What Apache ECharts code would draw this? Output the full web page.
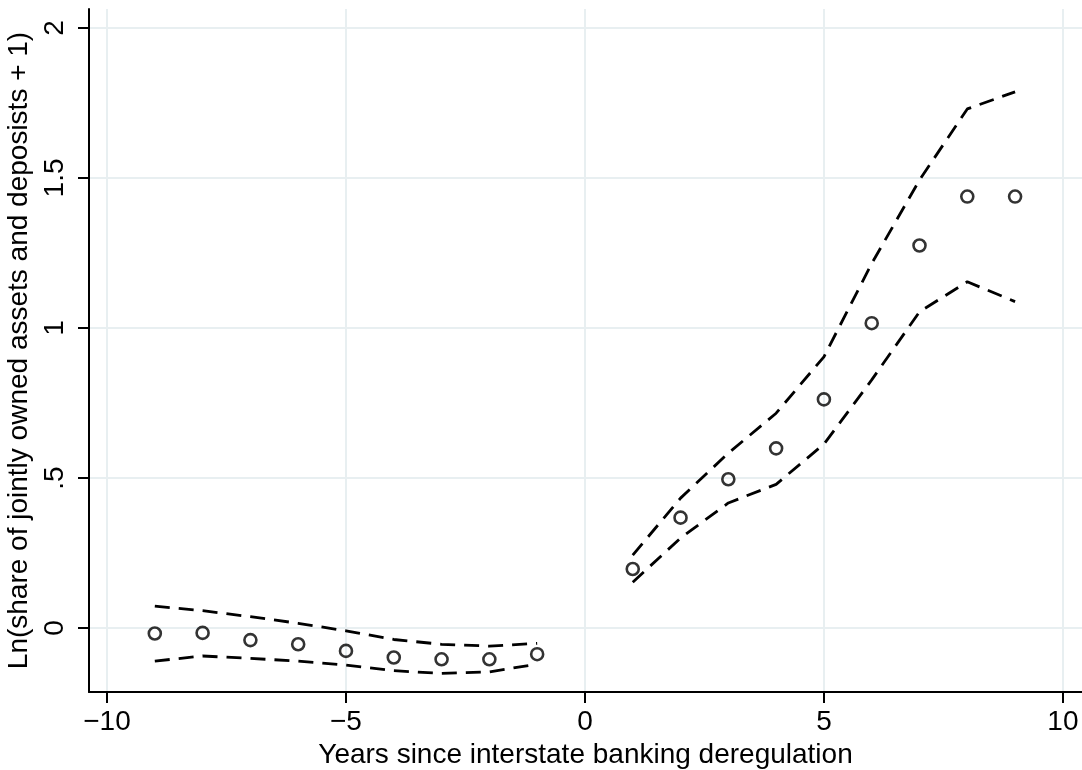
<!DOCTYPE html>
<html lang="en">
<head>
<meta charset="UTF-8">
<title>Deregulation event study</title>
<script src="https://cdn.jsdelivr.net/npm/echarts@6/dist/echarts.min.js"></script>
<style>
  html, body { margin: 0; padding: 0; background: #fff; }
  #main { width: 1082px; height: 770px; }
</style>
</head>
<body>
<div id="main"></div>
<script>
  // years before / after deregulation
  var yearsPre = [-9, -8, -7, -6, -5, -4, -3, -2, -1];
  var yearsPost = [1, 2, 3, 4, 5, 6, 7, 8, 9];

  // point estimates
  var estPre = [-0.018, -0.016, -0.040, -0.054, -0.076, -0.098, -0.104, -0.104, -0.087];
  var estPost = [0.197, 0.368, 0.496, 0.599, 0.762, 1.016, 1.275, 1.438, 1.438];

  // confidence bands
  var upperPre = [0.073, 0.058, 0.038, 0.016, -0.009, -0.038, -0.054, -0.060, -0.051];
  var lowerPre = [-0.110, -0.093, -0.101, -0.110, -0.123, -0.142, -0.151, -0.146, -0.120];
  var upperPost = [0.243, 0.433, 0.583, 0.716, 0.904, 1.215, 1.493, 1.730, 1.787];
  var lowerPost = [0.153, 0.300, 0.417, 0.479, 0.613, 0.827, 1.054, 1.154, 1.088];

  // tick labels
  var xTicks = [-10, -5, 0, 5, 10];
  var yTicks = [0, 0.5, 1, 1.5, 2];

  function pairs(xs, ys) {
    return xs.map(function (x, i) { return [x, ys[i]]; });
  }

  var font = "'Liberation Sans', Arial, Helvetica, sans-serif";
  var gridColor = '#e8eff1';

  function band(name, xs, ys) {
    return {
      name: name,
      type: 'line',
      data: pairs(xs, ys),
      symbol: 'none',
      silent: true,
      lineStyle: { color: '#000', width: 2.8, type: [15, 9] },
      z: 3
    };
  }

  var myChart = echarts.init(document.getElementById('main'));
  var option = {
    animation: false,
    backgroundColor: '#fff',
    grid: {
      left: 89, right: 0, top: 9, bottom: 78,
      containLabel: false,
      outerBoundsMode: 'none'
    },
    xAxis: {
      type: 'value',
      min: -10.377,
      max: 10.40,
      name: 'Years since interstate banking deregulation',
      nameLocation: 'middle',
      nameGap: 45,
      nameTextStyle: { fontFamily: font, fontSize: 28, color: '#000' },
      axisLine: { show: true, onZero: false, lineStyle: { color: '#000', width: 2 } },
      axisTick: { show: true, length: 11, customValues: xTicks, lineStyle: { color: '#000', width: 2 } },
      axisLabel: {
        customValues: xTicks,
        margin: 16,
        fontFamily: font, fontSize: 28, color: '#000',
        formatter: function (v) { return v < 0 ? '\u2212' + Math.abs(v) : String(v); }
      },
      splitLine: { show: true, lineStyle: { color: gridColor, width: 2 } }
    },
    yAxis: {
      type: 'value',
      min: -0.213,
      max: 2.063,
      name: 'Ln(share of jointly owned assets and deposists + 1)',
      nameLocation: 'middle',
      nameGap: 45,
      nameTextStyle: { fontFamily: font, fontSize: 28, color: '#000' },
      axisLine: { show: true, onZero: false, lineStyle: { color: '#000', width: 2 } },
      axisTick: { show: true, length: 11, customValues: yTicks, lineStyle: { color: '#000', width: 2 } },
      axisLabel: {
        customValues: yTicks,
        rotate: 90,
        margin: 20,
        fontFamily: font, fontSize: 28, color: '#000',
        formatter: function (v) { return String(v).replace(/^0\./, '.'); }
      },
      splitLine: { show: true, lineStyle: { color: gridColor, width: 2 } }
    },
    series: [
      band('upperPre', yearsPre, upperPre),
      band('lowerPre', yearsPre, lowerPre),
      band('upperPost', yearsPost, upperPost),
      band('lowerPost', yearsPost, lowerPost),
      {
        name: 'estPre',
        type: 'scatter',
        data: pairs(yearsPre, estPre),
        symbol: 'circle',
        symbolSize: 12,
        itemStyle: { color: 'rgba(0,0,0,0)', borderColor: '#000', borderWidth: 2.6 },
        z: 4
      },
      {
        name: 'estPost',
        type: 'scatter',
        data: pairs(yearsPost, estPost),
        symbol: 'circle',
        symbolSize: 12,
        itemStyle: { color: 'rgba(0,0,0,0)', borderColor: '#000', borderWidth: 2.6 },
        z: 4
      }
    ]
  };
  option && myChart.setOption(option);

  window.addEventListener('resize', function () {
    myChart.resize();
  });
</script>
</body>
</html>
